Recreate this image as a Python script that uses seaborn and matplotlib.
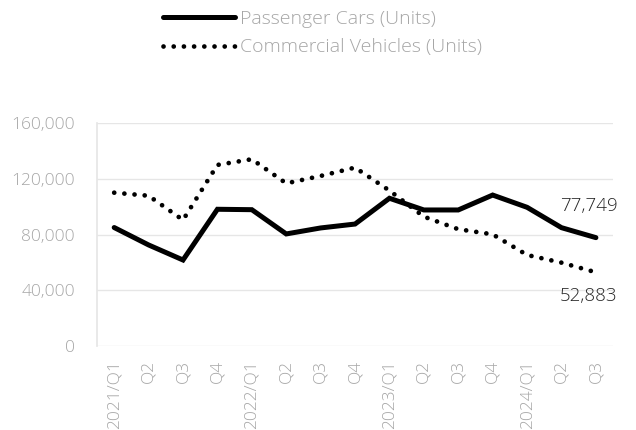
import pandas as pd
import seaborn as sns
from matplotlib import pyplot as plt

# quarters shown on the x axis
quarters = ['2021/Q1', 'Q2', 'Q3', 'Q4',
            '2022/Q1', 'Q2', 'Q3', 'Q4',
            '2023/Q1', 'Q2', 'Q3', 'Q4',
            '2024/Q1', 'Q2', 'Q3']

# units per quarter
passenger_cars = [85000, 72500, 61700, 98100, 97800, 80400, 84700, 87500,
                  106000, 97600, 97600, 108300, 99500, 84900, 77749]
commercial_vehicles = [110000, 107800, 90400, 129900, 134000, 116700, 122000, 128000,
                       111500, 92800, 83800, 80100, 65300, 59800, 52883]

yticks = [0, 40000, 80000, 120000, 160000]

sns.set_theme(style='white')
plt.rcParams['font.family'] = ['Open Sans', 'DejaVu Sans']
plt.rcParams['font.weight'] = 'light'

grey = '#a6a6a6'
df = pd.DataFrame({'pos': range(len(quarters)),
                   'cars': passenger_cars,
                   'commercial': commercial_vehicles})

fig = plt.figure(figsize=(6.36, 4.3), dpi=100)
ax = fig.add_axes([0.1525, 0.1953, 0.8115, 0.5187])

sns.lineplot(data=df, x='pos', y='cars', ax=ax, color='black', linewidth=3.6,
             label='Passenger Cars (Units)', solid_joinstyle='miter')
sns.lineplot(data=df, x='pos', y='commercial', ax=ax, color='black', linewidth=3.4,
             linestyle=(0, (0.01, 2.15)), dash_capstyle='round',
             label='Commercial Vehicles (Units)')

ax.set_xlim(-0.5, len(quarters) - 0.5)
ax.set_ylim(0, 160000)
ax.set_yticks(yticks)
ax.set_yticklabels([f'{v:,}' for v in yticks], color=grey, fontsize=12.5)
ax.set_xticks(range(len(quarters)))
ax.set_xticklabels(quarters, rotation=90, color=grey, fontsize=12.5)
ax.tick_params(axis='y', length=0, pad=16)
ax.tick_params(axis='x', length=0, pad=10)
ax.grid(axis='y', color='#e6e6e6', linewidth=1)
ax.set_xlabel('')
ax.set_ylabel('')
for side in ['top', 'right', 'bottom']:
    ax.spines[side].set_visible(False)
ax.spines['left'].set_color('#e6e6e6')

# end value labels
last = len(quarters) - 1
ax.annotate(f'{passenger_cars[-1]:,}', (last, passenger_cars[-1]), xytext=(-5, 23),
            textcoords='offset points', ha='center', va='center', fontsize=13.5, color='#262626')
ax.annotate(f'{commercial_vehicles[-1]:,}', (last, commercial_vehicles[-1]), xytext=(-5, -17),
            textcoords='offset points', ha='center', va='center', fontsize=13.5, color='#262626')

leg = ax.legend(loc='center', bbox_to_anchor=(0.507, 0.923), bbox_transform=fig.transFigure,
                frameon=False, fontsize=14, handlelength=3.7, handletextpad=0.25,
                labelspacing=0.55)
for t in leg.get_texts():
    t.set_color(grey)

fig.savefig('out.png', dpi=100)
